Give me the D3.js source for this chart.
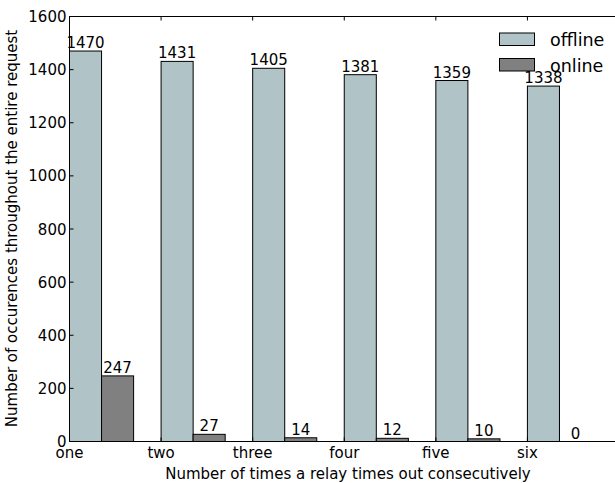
<!DOCTYPE html>
<html>
<head>
<meta charset="utf-8">
<script src="https://cdn.jsdelivr.net/npm/d3@7"></script>
<style>
html,body{margin:0;padding:0;background:#fff;}
svg{display:block;}
text{font-family:"DejaVu Sans",sans-serif;fill:#000;}
</style>
</head>
<body>
<svg id="chart" width="615" height="483"></svg>
<script>
const categories = ["one", "two", "three", "four", "five", "six"];
const offlineValues = [1470, 1431, 1405, 1381, 1359, 1338];
const onlineValues = [247, 27, 14, 12, 10, 0];
const yTicks = [0, 200, 400, 600, 800, 1000, 1200, 1400, 1600];
const seriesNames = ["offline", "online"];
const seriesColors = ["#b0c3c6", "#808080"];

(function () {
const svg = d3.select("#chart");
const pL = 69.5, pR = 619, pT = 16.5, pB = 441.5;
const x = d3.scaleLinear().domain([0, 6]).range([pL, pR]);
const y = d3.scaleLinear().domain([0, 1600]).range([pB, pT]);
const bw = 0.35;
const fs = "15px";

const g = svg.append("g");

// bars
const series = [offlineValues, onlineValues];
series.forEach((vals, s) => {
  g.selectAll(".bar" + s).data(vals).enter().append("rect")
    .attr("x", (d, i) => x(i + s * bw))
    .attr("y", d => y(d))
    .attr("width", x(bw) - x(0))
    .attr("height", d => y(0) - y(d))
    .attr("fill", seriesColors[s])
    .attr("stroke", "#000")
    .attr("stroke-width", 1);
  g.selectAll(".lab" + s).data(vals).enter().append("text")
    .attr("x", (d, i) => x(i + s * bw + bw / 2))
    .attr("y", d => y(d) - 3)
    .attr("text-anchor", "middle")
    .style("font-size", fs)
    .text(d => d);
});

// spines
g.append("rect").attr("x", pL).attr("y", pT)
  .attr("width", pR - pL).attr("height", pB - pT)
  .attr("fill", "none").attr("stroke", "#000").attr("stroke-width", 1);

// y ticks (inward on both sides)
yTicks.forEach(t => {
  g.append("line").attr("x1", pL).attr("x2", pL + 4)
    .attr("y1", y(t)).attr("y2", y(t)).attr("stroke", "#000");
  g.append("line").attr("x1", pR).attr("x2", pR - 4)
    .attr("y1", y(t)).attr("y2", y(t)).attr("stroke", "#000");
  g.append("text").attr("x", pL - 3).attr("y", y(t) + 5.5)
    .attr("text-anchor", "end").style("font-size", fs).text(t);
});

// x ticks
categories.forEach((c, i) => {
  g.append("line").attr("x1", x(i)).attr("x2", x(i))
    .attr("y1", pT).attr("y2", pT + 4).attr("stroke", "#000");
  g.append("line").attr("x1", x(i)).attr("x2", x(i))
    .attr("y1", pB).attr("y2", pB - 4).attr("stroke", "#000");
  g.append("text").attr("x", x(i)).attr("y", 457.5)
    .attr("text-anchor", "middle").style("font-size", fs).text(c);
});

// axis labels
g.append("text").attr("x", 348).attr("y", 478.5)
  .attr("text-anchor", "middle").style("font-size", fs)
  .text("Number of times a relay times out consecutively");
g.append("text").attr("transform", "translate(17," + 228.5 + ") rotate(-90)")
  .attr("text-anchor", "middle").style("font-size", fs)
  .text("Number of occurences throughout the entire request");

// legend
seriesNames.forEach((n, s) => {
  const ly = 33 + s * 25.5;
  g.append("rect").attr("x", 499.5).attr("y", ly).attr("width", 35).attr("height", 12.5)
    .attr("fill", seriesColors[s]).attr("stroke", "#000").attr("stroke-width", 1);
  g.append("text").attr("x", 550).attr("y", ly + 13)
    .style("font-size", "17.5px").text(n);
});
})();
</script>
</body>
</html>
